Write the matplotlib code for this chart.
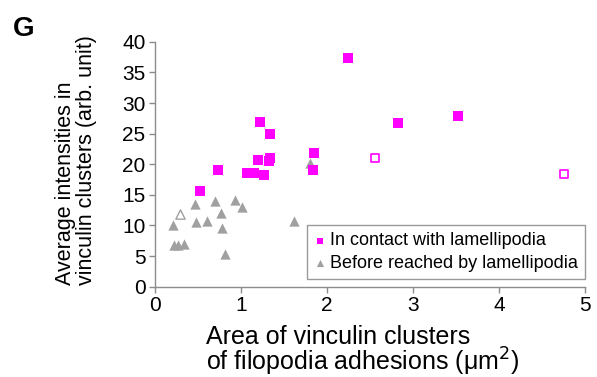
import matplotlib
matplotlib.use("Agg")
import matplotlib.pyplot as plt

plt.rcParams['font.family'] = ['Liberation Sans', 'DejaVu Sans']

# In contact with lamellipodia (filled squares)
contact_x = [2.24, 1.22, 1.34, 2.82, 3.52, 1.85, 1.19, 1.32, 1.34, 0.73, 1.83, 1.07, 1.15, 1.27, 0.52]
contact_y = [37.4, 26.9, 25.0, 26.7, 27.9, 21.9, 20.7, 20.6, 21.0, 19.1, 19.1, 18.6, 18.6, 18.3, 15.7]
# hollow squares
contact_open_x = [2.56, 4.75]
contact_open_y = [21.1, 18.4]

# Before reached by lamellipodia (filled triangles)
before_x = [1.80, 0.46, 0.69, 0.93, 1.01, 0.76, 0.21, 0.47, 0.60, 1.62, 0.78, 0.22, 0.27, 0.33, 0.81]
before_y = [20.2, 13.5, 14.0, 14.2, 13.1, 12.1, 10.1, 10.5, 10.7, 10.7, 9.6, 6.8, 6.8, 6.9, 5.4]
# hollow triangle
before_open_x = [0.29]
before_open_y = [11.8]

xticks = [0, 1, 2, 3, 4, 5]
yticks = [0, 5, 10, 15, 20, 25, 30, 35, 40]

magenta = '#FF00FF'
gray = '#A0A0A0'
axis_gray = '#8C8C8C'

fig = plt.figure(figsize=(5.97, 3.77), dpi=100)
ax = fig.add_axes([0.26, 0.2395, 0.72, 0.6495])

ax.scatter(before_x, before_y, marker='^', s=55, color=gray, linewidths=0, zorder=3,
           label='Before reached by lamellipodia')
ax.scatter(before_open_x, before_open_y, marker='^', s=45, facecolors='white',
           edgecolors=gray, linewidths=1.0, zorder=3)
ax.scatter(contact_x, contact_y, marker='s', s=42, color=magenta, linewidths=0, zorder=4,
           label='In contact with lamellipodia')
ax.scatter(contact_open_x, contact_open_y, marker='s', s=34, facecolors='white',
           edgecolors=magenta, linewidths=1.2, zorder=4)

ax.set_xlim(0, 5)
ax.set_ylim(0, 40)
ax.set_xticks(xticks)
ax.set_yticks(yticks)
ax.tick_params(axis='both', direction='out', length=4, width=1, color=axis_gray,
               labelsize=15)
ax.tick_params(axis='y', pad=3)
ax.tick_params(axis='x', pad=3)
for s in ['top', 'right']:
    ax.spines[s].set_visible(False)
for s in ['left', 'bottom']:
    ax.spines[s].set_color(axis_gray)
    ax.spines[s].set_linewidth(1)

ax.set_xlabel('Area of vinculin clusters\nof filopodia adhesions (μm$^2$)', fontsize=18,
              linespacing=0.85, multialignment='left')
ax.xaxis.set_label_coords(0.482, -0.158)
ax.set_ylabel('Average intensities in\nvinculin clusters (arb. unit)', fontsize=15.5,
              linespacing=1.0, multialignment='left')
ax.yaxis.set_label_coords(-0.135, 0.517)

handles, labels = ax.get_legend_handles_labels()
leg = ax.legend(handles[::-1], labels[::-1], loc='lower right', bbox_to_anchor=(1.0, 0.031),
                fontsize=13, frameon=True, fancybox=False, handletextpad=0.25,
                handlelength=0.6, borderpad=0.4, labelspacing=0.3, markerscale=0.7,
                borderaxespad=0.0)
leg.get_frame().set_edgecolor('#808080')
leg.get_frame().set_linewidth(1)

fig.text(0.022, 0.9045, 'G', fontsize=20, fontweight='bold')

fig.savefig('out.png', dpi=100)
